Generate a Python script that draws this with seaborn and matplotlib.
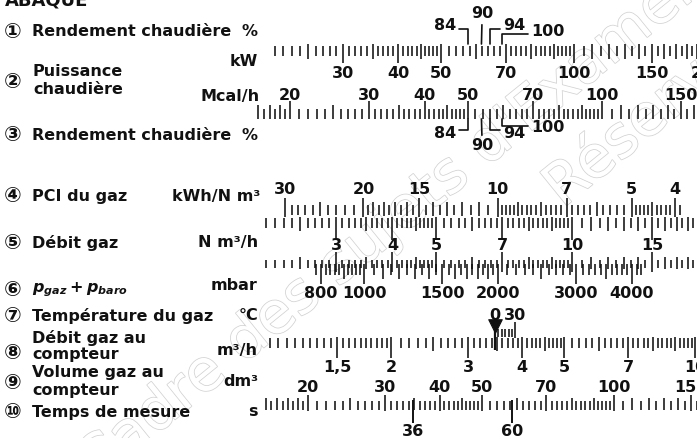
import numpy as np
import matplotlib
matplotlib.use("Agg")
import matplotlib.pyplot as plt
import matplotlib.patheffects as pe
import seaborn as sns

sns.set_theme(style="white")
plt.rcParams["font.family"] = ["DejaVu Sans", "Noto Sans CJK JP"]
plt.rcParams["font.weight"] = "bold"
plt.rcParams["mathtext.fontset"] = "custom"
plt.rcParams["mathtext.it"] = "DejaVu Sans:italic:bold"
plt.rcParams["mathtext.rm"] = "DejaVu Sans:bold"
plt.rcParams["mathtext.bf"] = "DejaVu Sans:bold"

W, H = 697, 438
FS = 11.5
INK = "#111111"

# ---------------- data (scale values) ----------------
# (1) / (3) boiler efficiency, %
EFF_VALUES = [84, 90, 94, 100]
# (2) boiler power, kW
KW_LABELS = [30, 40, 50, 70, 100, 150, 200]
KW_GRAD = [(21, 50, 1, 5), (50, 100, 2, 10), (100, 200, 5, 10)]
# (2) boiler power, Mcal/h
MCAL_LABELS = [20, 30, 40, 50, 70, 100, 150]
MCAL_GRAD = [(17, 20, 0.5, 1), (20, 50, 1, 5), (50, 100, 2, 10), (100, 165, 5, 10)]
# (4) PCI of gas, kWh/Nm3 (scale runs right to left)
PCI_LABELS = [30, 20, 15, 10, 7, 5, 4]
PCI_GRAD = [(3.9, 5, 0.1, 0.5), (5, 10, 0.2, 1), (10, 20, 0.5, 1), (20, 30, 1, 5)]
# (5) gas flow, Nm3/h
NM3_LABELS = [3, 4, 5, 7, 10, 15]
NM3_GRAD = [(2.1, 5, 0.1, 0.5), (5, 10, 0.2, 1), (10, 19, 0.5, 1)]
# (6) p_gaz + p_baro, mbar
MBAR_LABELS = [800, 1000, 1500, 2000, 3000, 4000]
MBAR_GRAD = [(780, 1000, 20, 100), (1000, 2000, 50, 100), (2000, 4200, 100, 500)]
# (7) gas temperature, °C
TEMP_LABELS = [0, 30]
TEMP_GRAD = [(0, 30, 5, 10)]
# (8) gas flow at meter, m3/h
M3H_LABELS = [1.5, 2, 3, 4, 5, 7, 10]
M3H_GRAD = [(1.05, 2, 0.05, 0.5), (2, 5, 0.1, 0.5), (5, 10, 0.2, 1)]
# (9) gas volume at meter, dm3
DM3_LABELS = [20, 30, 40, 50, 70, 100, 150]
DM3_GRAD = [(16, 20, 0.5, 1), (20, 50, 1, 5), (50, 100, 2, 10), (100, 160, 5, 10)]
# (10) measuring time, s
TIME_LABELS = [36, 60]

# ---------------- layout: two reference points (value, pixel x) per scale -------
ANCHOR = {
    "eff": ((84, 468), (100, 502)),
    "kw": ((30, 343), (150, 652)),
    "mcal": ((20, 290), (150, 681)),
    "pci": ((30, 285), (4, 675)),
    "nm3": ((3, 336), (15, 652)),
    "mbar": ((800, 321), (4000, 632)),
    "temp": ((273.15, 495), (303.15, 515)),
    "m3h": ((1.5, 337), (7, 628)),
    "dm3": ((20, 308), (100, 614)),
    "time": ((36, 413), (60, 512)),
}

fig = plt.figure(figsize=(W / 100, H / 100), dpi=100)
fig.patch.set_facecolor("white")


def xlim_of(key):
    (v1, x1), (v2, x2) = ANCHOR[key]
    k = (x2 - x1) / np.log10(v2 / v1)
    return (v1 * 10 ** ((0 - x1) / k), v1 * 10 ** ((W - x1) / k))


def overlay(key):
    ax = fig.add_axes([0, 0, 1, 1])
    ax.set_xscale("log")
    ax.set_xlim(xlim_of(key))
    ax.set_ylim(H, 0)
    ax.set_axis_off()
    ax.patch.set_alpha(0)
    return ax


def graduations(segments, labels):
    vals, cls = [], []
    for a, b, step, mid in segments:
        for v in np.arange(a, b + step * 0.5, step):
            v = round(float(v), 6)
            if any(abs(v - l) < 1e-6 for l in labels):
                c = 2
            elif abs(v / mid - round(v / mid)) < 1e-6:
                c = 1
            else:
                c = 0
            vals.append(v)
            cls.append(c)
    vals = np.array(vals)
    cls = np.array(cls)
    _, idx = np.unique(vals, return_index=True)
    return vals[idx], cls[idx]


def rug(key, values, y0, y1, lw=1.15):
    if len(values) == 0:
        return
    ax = fig.add_axes([0, 1 - y1 / H, 1, (y1 - y0) / H])
    ax.set_xscale("log")
    ax.set_xlim(xlim_of(key))
    sns.rugplot(x=values, ax=ax, height=1.0, color=INK, linewidth=lw,
                expand_margins=False)
    ax.set_xlim(xlim_of(key))
    ax.set_ylim(0, 1)
    ax.set_axis_off()
    ax.patch.set_alpha(0)


def scale_ticks(key, segments, labels, geom):
    vals, cls = graduations(segments, labels)
    for c, (y0, y1) in enumerate(geom):
        rug(key, vals[cls == c], y0, y1)


def fmt(v):
    return f"{v:g}".replace(".", ",")


# ---------------- background text axes (pixel coords) ----------------
tax = fig.add_axes([0, 0, 1, 1])
tax.set_xlim(0, W)
tax.set_ylim(H, 0)
tax.set_axis_off()

# faint watermark (thin grey outline letters)
wm = dict(fontsize=42, color="white", rotation=39, rotation_mode="anchor",
          fontweight="normal", family="DejaVu Sans", zorder=0,
          path_effects=[pe.withStroke(linewidth=1.1, foreground="#d2d2d2")])
tax.text(405, 212, "Cadre des sujets d'Examens", ha="center", va="center", **wm)
tax.text(552, 196, "Réservé aux abonnés", ha="left", va="center", **wm)

# cropped header (only its lower edge is visible)
tax.text(5, 5, "ABAQUE", fontsize=13, fontweight="bold", color=INK, va="baseline")

# left-hand labels
def lab(x, y, s, ha="left", **kw):
    kw.setdefault("fontsize", FS)
    tax.text(x, y, s, ha=ha, va="center", color=INK, **kw)

def circ(y, s):
    tax.text(13, y, s, ha="center", va="center", color=INK, fontsize=15,
             fontweight="bold")

circ(32, "①")
lab(32, 32, "Rendement chaudière")
lab(258, 32, "%", ha="right")
circ(82, "②")
lab(33, 71, "Puissance")
lab(33, 89, "chaudière")
lab(258, 61, "kW", ha="right")
lab(260, 96, "Mcal/h", ha="right")
circ(135, "③")
lab(32, 135, "Rendement chaudière")
lab(258, 135, "%", ha="right")
circ(196, "④")
lab(32, 196, "PCI du gaz")
lab(260, 196, "kWh/N m³", ha="right")
circ(243, "⑤")
lab(32, 243, "Débit gaz")
lab(258, 242, "N m³/h", ha="right")
circ(290, "⑥")
lab(32, 290, r"$p_{gaz} + p_{baro}$")
lab(258, 286, "mbar", ha="right")
circ(316, "⑦")
lab(32, 316, "Température du gaz")
lab(258, 316, "°C", ha="right")
circ(353, "⑧")
lab(32, 338, "Débit gaz au")
lab(32, 355, "compteur")
lab(258, 351, "m³/h", ha="right")
circ(383, "⑨")
lab(32, 373, "Volume gaz au")
lab(32, 390, "compteur")
lab(258, 381, "dm³", ha="right")
circ(412, "⑩")
lab(32, 412, "Temps de mesure")
lab(258, 412, "s", ha="right")

# ---------------- scale (2): kW / Mcal/h ----------------
scale_ticks("kw", KW_GRAD, KW_LABELS, [(46, 56), (44, 59), (44, 63)])
ax = overlay("kw")
for v in KW_LABELS:
    ax.text(v, 74, fmt(v), ha="center", va="center", fontsize=FS, color=INK)

scale_ticks("mcal", MCAL_GRAD, MCAL_LABELS, [(109, 119), (105, 119), (101, 119)])
ax = overlay("mcal")
for v in MCAL_LABELS:
    ax.text(v, 96, fmt(v), ha="center", va="center", fontsize=FS, color=INK)

# ---------------- scales (1) and (3): efficiency leaders ----------------
ax = overlay("eff")
lk = dict(arrowstyle="-", shrinkA=0, shrinkB=0, lw=1.2, color=INK)
tk = dict(fontsize=FS, color=INK, va="center", textcoords="figure pixels")
elbow = "angle,angleA=0,angleB=90,rad=0"
# top (1)
ax.annotate(fmt(EFF_VALUES[0]), xy=(EFF_VALUES[0], 44), xytext=(445, H - 25), ha="center",
            arrowprops=dict(connectionstyle=elbow, relpos=(1, 0.25), **lk), **tk)
ax.annotate(fmt(EFF_VALUES[1]), xy=(EFF_VALUES[1], 44), xytext=(482, H - 14), ha="center",
            arrowprops=dict(connectionstyle="arc3", relpos=(0.5, 0.0), **lk), **tk)
ax.annotate(fmt(EFF_VALUES[2]), xy=(EFF_VALUES[2], 44), xytext=(514, H - 25), ha="center",
            arrowprops=dict(connectionstyle=elbow, relpos=(0, 0.25), **lk), **tk)
ax.annotate(fmt(EFF_VALUES[3]), xy=(EFF_VALUES[3], 44), xytext=(548, H - 32), ha="center",
            arrowprops=dict(connectionstyle=elbow, relpos=(0, 0.35), **lk), **tk)
# bottom (3)
ax.annotate(fmt(EFF_VALUES[0]), xy=(EFF_VALUES[0], 119), xytext=(445, H - 134), ha="center",
            arrowprops=dict(connectionstyle=elbow, relpos=(1, 0.8), **lk), **tk)
ax.annotate(fmt(EFF_VALUES[1]), xy=(EFF_VALUES[1], 119), xytext=(482, H - 146), ha="center",
            arrowprops=dict(connectionstyle="arc3", relpos=(0.5, 1.0), **lk), **tk)
ax.annotate(fmt(EFF_VALUES[2]), xy=(EFF_VALUES[2], 119), xytext=(514, H - 134), ha="center",
            arrowprops=dict(connectionstyle=elbow, relpos=(0, 0.8), **lk), **tk)
ax.annotate(fmt(EFF_VALUES[3]), xy=(EFF_VALUES[3], 119), xytext=(548, H - 127), ha="center",
            arrowprops=dict(connectionstyle=elbow, relpos=(0, 0.6), **lk), **tk)

# ---------------- scale (4): PCI ----------------
scale_ticks("pci", PCI_GRAD, PCI_LABELS, [(205, 215), (202, 216), (198, 217)])
ax = overlay("pci")
for v in PCI_LABELS:
    ax.text(v, 190, fmt(v), ha="center", va="center", fontsize=FS, color=INK)

# ---------------- scale (5): Nm3/h (double-sided) ----------------
scale_ticks("nm3", NM3_GRAD, NM3_LABELS, [(218, 228), (217, 231), (217, 240)])
scale_ticks("nm3", NM3_GRAD, NM3_LABELS, [(260, 268), (257, 269), (252, 272)])
ax = overlay("nm3")
for v in NM3_LABELS:
    ax.text(v, 246, fmt(v), ha="center", va="center", fontsize=FS, color=INK)

# ---------------- scale (6): mbar ----------------
scale_ticks("mbar", MBAR_GRAD, MBAR_LABELS, [(264, 275), (264, 279), (264, 284)])
ax = overlay("mbar")
for v in MBAR_LABELS:
    ax.text(v, 294, fmt(v), ha="center", va="center", fontsize=FS, color=INK)

# ---------------- scale (7): temperature ----------------
temp_vals, temp_cls = graduations(TEMP_GRAD, TEMP_LABELS)
temp_k = temp_vals + 273.15
rug("temp", temp_k[(temp_cls < 2)], 329, 337)
rug("temp", temp_k[(temp_cls == 2) & (temp_vals > 0)], 322, 338)
rug("temp", temp_k[(temp_cls == 2) & (temp_vals == 0)], 318, 350, lw=1.6)
ax = overlay("temp")
sns.scatterplot(x=[TEMP_LABELS[0] + 273.15], y=[326], marker="v", s=95,
                color=INK, edgecolor=INK, ax=ax, legend=False)
ax.set_xlim(xlim_of("temp"))
ax.set_ylim(H, 0)
ax.set_axis_off()
for v in TEMP_LABELS:
    ax.text(v + 273.15, 315, fmt(v), ha="center", va="center", fontsize=FS, color=INK)

# ---------------- scale (8): m3/h ----------------
scale_ticks("m3h", M3H_GRAD, M3H_LABELS, [(338, 348), (337, 351), (337, 358)])
ax = overlay("m3h")
for v in M3H_LABELS:
    ax.text(v, 368, fmt(v), ha="center", va="center", fontsize=FS, color=INK)

# ---------------- scale (9): dm3 ----------------
scale_ticks("dm3", DM3_GRAD, DM3_LABELS, [(401, 410), (398, 410), (395, 411)])
ax = overlay("dm3")
for v in DM3_LABELS:
    ax.text(v, 388, fmt(v), ha="center", va="center", fontsize=FS, color=INK)

# ---------------- scale (10): time ----------------
rug("time", TIME_LABELS, 400, 423, lw=1.4)
ax = overlay("time")
for v in TIME_LABELS:
    ax.text(v, 431, fmt(v), ha="center", va="center", fontsize=FS, color=INK)

fig.savefig("out.png", dpi=100, facecolor="white")
